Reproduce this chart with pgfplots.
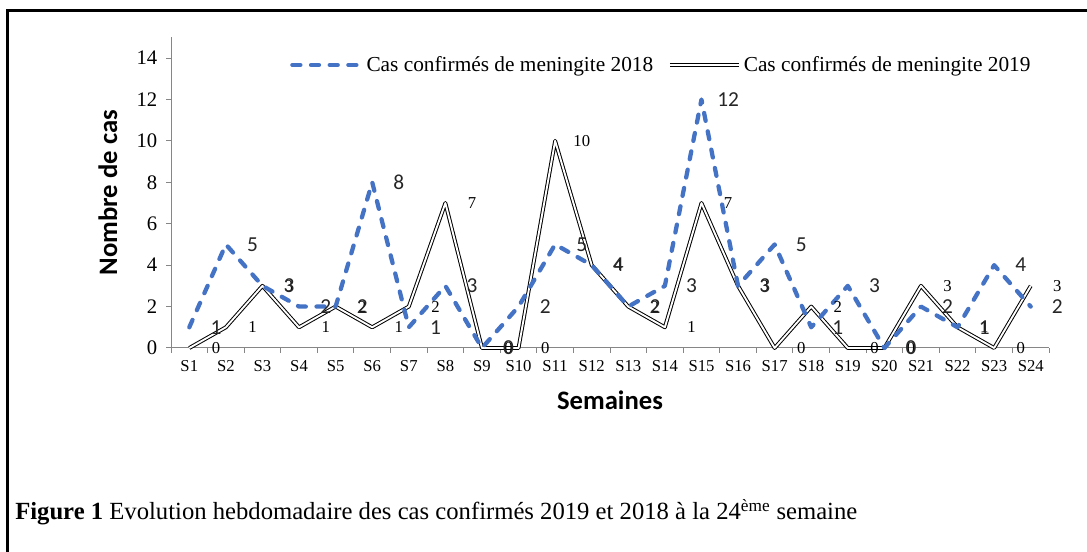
\documentclass[border=0pt]{standalone}
\usepackage{fontspec}
\setmainfont{Liberation Serif}
\newfontfamily\carlito{Carlito}
\usepackage{pgfplots}
\pgfplotsset{compat=1.18}
\definecolor{blueS}{RGB}{68,114,196}
\definecolor{axgray}{RGB}{134,134,134}
\begin{document}
\begin{tikzpicture}
\useasboundingbox (0,0) rectangle (815.25pt,414pt);
\draw[line width=2.25pt, line join=miter] (5.6pt,0) -- (5.6pt,405.75pt) -- (815.25pt,405.75pt);
\begin{axis}[
  at={(128.25pt,153pt)}, anchor=south west,
  scale only axis, width=658.5pt, height=233pt,
  xmin=0.5, xmax=24.5, ymin=0, ymax=15,
  clip=false,
  axis lines*=left,
  axis line style={axgray, line width=0.75pt, -},
  xtick={1,...,24},
  xticklabels={S1,S2,S3,S4,S5,S6,S7,S8,S9,S10,S11,S12,S13,S14,S15,S16,S17,S18,S19,S20,S21,S22,S23,S24},
  minor xtick={0.5,1.5,...,24.5},
  ytick={0,2,...,14},
  tick align=outside,
  major tick length=3.75pt, minor tick length=3.75pt,
  tick style={axgray, line width=0.75pt},
  major x tick style={draw=none},
  /pgf/number format/assume math mode=true,
  x tick label style={font=\fontsize{12.5}{13}\selectfont, yshift=-2pt},
  y tick label style={font=\fontsize{15.5}{17}\selectfont, xshift=-3pt},
  ylabel={Nombre de cas},
  xlabel={Semaines},
  every axis y label/.style={at={(axis description cs:-0.0718,0.5)}, rotate=90, anchor=center, font=\carlito\bfseries\fontsize{20}{22}\selectfont},
  every axis x label/.style={at={(axis description cs:0.5,-0.167)}, anchor=center, font=\carlito\bfseries\fontsize{20}{22}\selectfont},
  legend columns=2,
  reverse legend,
  legend style={at={(axis description cs:0.1355,0.911)}, anchor=west, draw=none, fill=none, inner sep=0pt,
    font=\fontsize{16}{18}\selectfont,
    /tikz/every even column/.append style={column sep=9pt}},
  legend image code/.code={\draw[#1] (0pt,0pt) -- (52pt,0pt);},
]
\addplot[draw=black, double=white, double distance=1.4pt, line width=0.75pt, line join=round, mark=none,
  nodes near coords,
  every node near coord/.append style={text=black, anchor=center, xshift=20pt, font=\fontsize{12.5}{14}\selectfont}]
  coordinates {(1,0) (2,1) (3,3) (4,1) (5,2) (6,1) (7,2) (8,7) (9,0) (10,0) (11,10) (12,4)
               (13,2) (14,1) (15,7) (16,3) (17,0) (18,2) (19,0) (20,0) (21,3) (22,1) (23,0) (24,3)};
\addlegendentry{Cas confirmés de meningite 2019}
\addplot[color=blueS, line width=3.2pt, line cap=round, line join=round, dash pattern=on 6pt off 8pt, mark=none,
  nodes near coords,
  every node near coord/.append style={text=black!85, anchor=center, xshift=20pt, font=\carlito\fontsize{16}{18}\selectfont}]
  coordinates {(1,1) (2,5) (3,3) (4,2) (5,2) (6,8) (7,1) (8,3) (9,0) (10,2) (11,5) (12,4)
               (13,2) (14,3) (15,12) (16,3) (17,5) (18,1) (19,3) (20,0) (21,2) (22,1) (23,4) (24,2)};
\addlegendentry{Cas confirmés de meningite 2018}
\end{axis}
\node[anchor=base west, inner sep=0pt, font=\fontsize{18.5}{20}\selectfont] at (11.25pt,24pt)
  {\textbf{Figure 1} Evolution hebdomadaire des cas confirmés 2019 et 2018 à la 24\textsuperscript{ème} semaine};
\end{tikzpicture}
\end{document}
